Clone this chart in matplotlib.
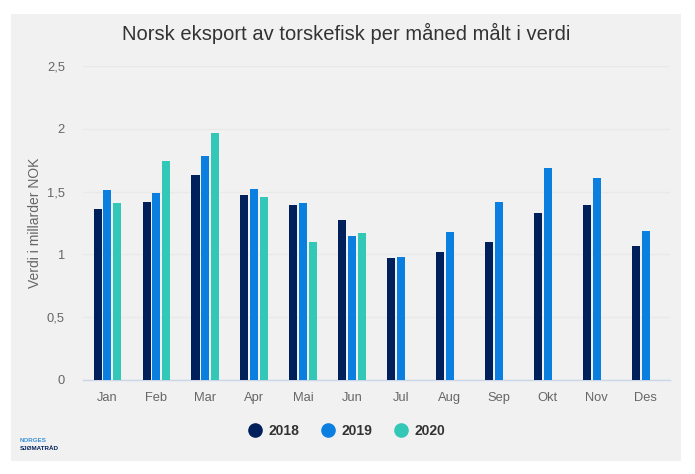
import matplotlib
matplotlib.use("Agg")
import matplotlib.pyplot as plt
from matplotlib.lines import Line2D
from matplotlib.patches import Rectangle
import numpy as np

plt.rcParams['font.family'] = ['Liberation Sans', 'DejaVu Sans']

months = ["Jan", "Feb", "Mar", "Apr", "Mai", "Jun", "Jul", "Aug", "Sep", "Okt", "Nov", "Des"]
v2018 = [1.36, 1.42, 1.63, 1.47, 1.39, 1.27, 0.97, 1.02, 1.10, 1.33, 1.39, 1.07]
v2019 = [1.51, 1.49, 1.78, 1.52, 1.41, 1.15, 0.98, 1.18, 1.42, 1.69, 1.61, 1.19]
v2020 = [1.41, 1.74, 1.97, 1.46, 1.10, 1.17]
yticks = [0, 0.5, 1, 1.5, 2, 2.5]
ylabels = ["0", "0,5", "1", "1,5", "2", "2,5"]

W, H = 695, 474
DARK = "#00205b"
BLUE = "#0a7fe0"
TEAL = "#33c7b8"
BG = "#f0f1f0"

fig = plt.figure(figsize=(W / 100, H / 100), dpi=100, facecolor="white")
fig.patches.append(Rectangle((11 / W, 1 - 461 / H), 670 / W, 447 / H, transform=fig.transFigure,
                             facecolor=BG, edgecolor="none", zorder=-1))

# plot area in pixels: x 83-670, y 66-380
ax = fig.add_axes([83 / W, 1 - 380 / H, 587 / W, 314 / H])
ax.patch.set_alpha(0)

x = np.arange(12)
w = 0.164
step = 0.2
ax.bar(x - step, v2018, w, color=DARK, zorder=3)
ax.bar(x, v2019, w, color=BLUE, zorder=3)
ax.bar(np.arange(len(v2020)) + step, v2020, w, color=TEAL, zorder=3)

ax.set_xlim(-0.5, 11.5)
ax.set_ylim(0, 2.5)
ax.set_xticks(x)
ax.set_xticklabels(months)
ax.set_yticks(yticks)
ax.set_yticklabels(ylabels)
ax.tick_params(axis="both", length=0, labelsize=9.3, labelcolor="#666666")
ax.tick_params(axis="x", pad=8.5)
ax.tick_params(axis="y", pad=13)
ax.grid(axis="y", color="#e8e9e8", linewidth=1, zorder=0)
for s in ["top", "right", "left"]:
    ax.spines[s].set_visible(False)
ax.spines["bottom"].set_color("#ccd6eb")
ax.spines["bottom"].set_linewidth(1)
ax.set_ylabel("Verdi i millarder NOK", fontsize=10, color="#666666")
ax.yaxis.set_label_coords((42 - 83) / 587, 0.5)

fig.text(346 / W, 1 - 33 / H, "Norsk eksport av torskefisk per måned målt i verdi",
         ha="center", va="center", fontsize=14.5, color="#333333")

# legend
handles = [Line2D([], [], linestyle="none", marker="o", markersize=9.5, color=c) for c in (DARK, BLUE, TEAL)]
fig.legend(handles, ["2018", "2019", "2020"], loc="center", bbox_to_anchor=(346 / W, 1 - 431 / H),
           ncol=3, frameon=False, prop={"weight": "bold", "size": 10}, labelcolor="#333333",
           handlelength=1.2, handletextpad=0.4, columnspacing=1.45)

# logo
fig.text(20 / W, 1 - 441 / H, "NORGES", fontsize=4.5, fontweight="bold", color="#3a8fd8", va="center")
fig.text(20 / W, 1 - 448 / H, "SJØMATRÅD", fontsize=4.5, fontweight="bold", color="#00205b", va="center")

fig.savefig("out.png", dpi=100, facecolor="white")
